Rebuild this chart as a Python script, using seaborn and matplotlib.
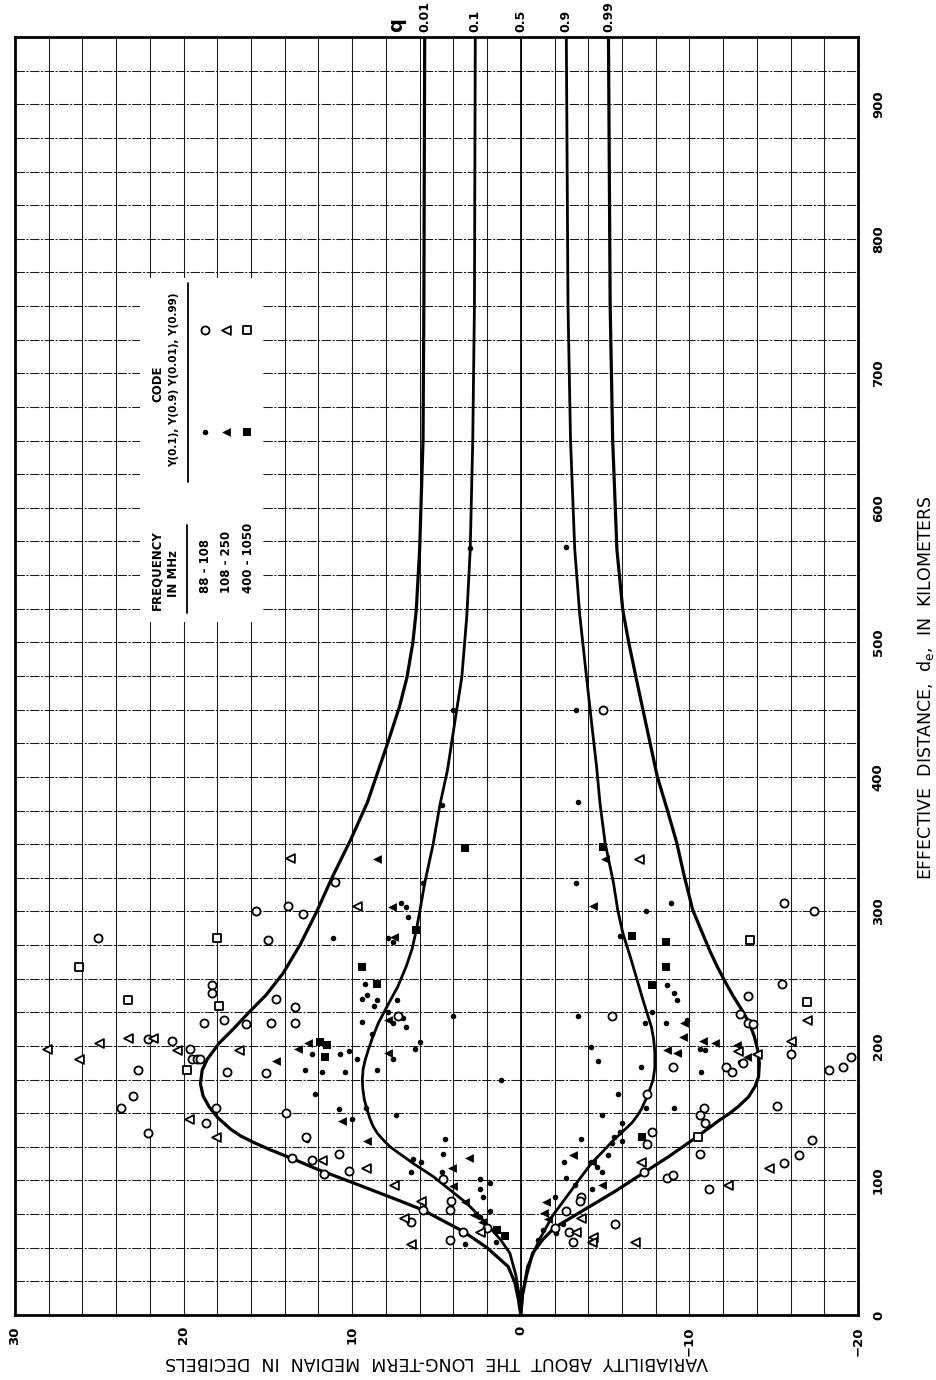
import numpy as np
import pandas as pd
import matplotlib
matplotlib.use("Agg")
import matplotlib.pyplot as plt
import seaborn as sns
from matplotlib.patches import Rectangle

sns.set_theme(style="white")
plt.rcParams['font.family'] = ['DejaVu Sans']
plt.rcParams['text.color'] = 'black'
plt.rcParams['xtick.color'] = 'black'
plt.rcParams['ytick.color'] = 'black'
plt.rcParams['axes.labelcolor'] = 'black'

# ---------------------------------------------------------------------------
# Predicted variability curves Y(q): effective distance (km) -> dB
# ---------------------------------------------------------------------------
q01_km = [0, 12, 24, 36, 50, 62, 78, 85, 99, 108, 117, 123, 128, 133, 138, 147,
          155, 163, 172, 182, 190, 202, 212, 224, 238, 254, 275, 300, 325, 353,
          381, 425, 452, 474, 500, 524, 569, 650, 750, 950]
q01_db = [0, 0.15, 0.35, 0.75, 2.0, 3.4, 5.8, 7.2, 10.1, 12.0, 13.7, 14.9, 15.8,
          16.6, 17.2, 18.0, 18.5, 18.85, 19.0, 18.9, 18.6, 17.9, 17.1, 16.2, 15.1,
          14.1, 13.1, 12.1, 11.2, 10.1, 9.1, 7.9, 7.2, 6.75, 6.4, 6.2, 6.0, 5.8,
          5.75, 5.7]

q10_km = [0, 15, 30, 46, 56, 65, 74, 83, 93, 103, 112, 120, 125, 130, 135, 140,
          146, 152, 160, 168, 175, 183, 190, 198, 206, 217, 229, 244, 259, 272,
          286, 303, 321, 350, 379, 405, 450, 474, 520, 569, 650, 750, 950]
q10_db = [0, 0.1, 0.3, 0.65, 1.2, 1.84, 2.5, 3.2, 4.2, 5.2, 6.3, 7.2, 7.75, 8.15,
          8.5, 8.75, 8.95, 9.1, 9.28, 9.37, 9.4, 9.35, 9.22, 9.02, 8.8, 8.45,
          7.95, 7.3, 6.8, 6.45, 6.2, 5.95, 5.7, 5.2, 4.8, 4.35, 3.8, 3.5, 3.2,
          3.0, 2.85, 2.75, 2.7]

q90_km = [0, 15, 36, 56, 74, 91, 103, 113, 122, 130, 137, 143, 148, 153, 164,
          175, 184, 195, 205, 214, 222, 234, 249, 266, 284, 301, 321, 351, 380,
          407, 440, 474, 520, 569, 650, 750, 950]
q90_db = [0, -0.1, -0.4, -1.1, -1.9, -2.9, -3.6, -4.2, -4.9, -5.5, -6.1, -6.6,
          -6.9, -7.15, -7.55, -7.85, -7.95, -7.95, -7.88, -7.75, -7.55, -7.25,
          -6.9, -6.5, -6.05, -5.75, -5.5, -5.0, -4.7, -4.5, -4.2, -3.9, -3.5,
          -3.2, -2.95, -2.8, -2.7]

q99_km = [0, 15, 30, 46, 56, 65, 80, 92, 105, 118, 132, 145, 150, 155, 162, 170,
          177, 187, 197, 207, 217, 227, 237, 247, 259, 271, 286, 301, 326, 351,
          375, 400, 435, 470, 500, 524, 569, 650, 750, 950]
q99_db = [0, -0.1, -0.35, -0.7, -1.3, -2.0, -4.0, -5.6, -7.2, -8.8, -10.4, -11.8,
          -12.4, -12.9, -13.5, -13.9, -14.1, -14.15, -14.05, -13.85, -13.55,
          -13.1, -12.6, -12.15, -11.65, -11.2, -10.7, -10.2, -9.7, -9.25, -8.7,
          -8.1, -7.5, -6.9, -6.4, -6.05, -5.7, -5.45, -5.3, -5.2]

q50_km = [0, 950]
q50_db = [0, 0]

q_labels = ["0.01", "0.1", "0.5", "0.9", "0.99"]

# ---------------------------------------------------------------------------
# Observed values (km, dB)
# Filled: Y(0.1), Y(0.9); open: Y(0.01), Y(0.99)
# circle 88-108 MHz, triangle 108-250 MHz, square 400-1050 MHz
# ---------------------------------------------------------------------------
fc_km = [570, 571, 450, 450, 381, 379, 321, 321, 306, 300, 280, 282, 245, 239,
         234, 246, 238, 235, 234, 230, 234, 280, 277, 296, 306, 303, 222, 222,
         225, 217, 217, 219, 221, 214, 203, 198, 199, 189, 218, 225, 217, 194,
         194, 196, 190, 182, 181, 181, 182, 164, 153, 154, 149, 146, 209, 190,
         184, 181, 198, 197, 195, 175, 164, 154, 154, 149, 143, 136, 132, 129,
         131, 128, 119, 114, 114, 110, 106, 120, 131, 116, 114, 106, 106, 101,
         98, 94, 88, 77, 73, 102, 94, 97, 88, 63, 61, 56, 68, 54, 53, 54, 188,
         130]
fc_db = [3.0, -2.7, 4.0, -3.3, -3.4, 4.7, -3.3, 5.8, -8.9, -7.4, 11.15, -5.9,
         -8.7, -9.1, -9.25, 9.25, 9.1, 9.4, 8.5, 8.7, 7.35, 7.9, 7.6, 6.7, 7.1,
         6.8, 4.0, -3.4, -7.8, -7.35, -8.6, -9.85, 7.0, 6.8, 6.0, 6.3, -4.15,
         -4.6, 9.4, 7.9, 7.6, 12.4, 10.7, 10.2, 9.7, 12.8, 11.8, 10.4, 8.5, 12.2,
         10.8, 9.2, 7.4, 10.0, 8.8, 7.6, -7.1, -10.7, -10.6, -10.9, -9.4, 1.2,
         -5.75, -7.4, -9.1, -4.8, -6.0, -5.9, -5.5, -6.0, -3.6, -5.4, -5.2,
         -2.55, -4.15, -4.5, -4.8, 4.6, 4.5, 6.4, 5.9, 6.5, 4.7, 2.4, 1.8, 2.4,
         2.25, 1.8, 2.4, -2.7, -4.2, -3.2, -2.0, -1.3, -2.1, -1.0, -2.5, -4.15,
         3.3, 1.5, -13.0, 12.7]

ft_km = [339, 303, 281, 339, 304, 202, 198, 189, 144, 195, 129, 217, 207, 204,
         202, 197, 195, 201, 192, 119, 114, 97, 117, 109, 96, 84, 74, 69, 84, 76,
         71, 219]
ft_db = [8.5, 7.65, 7.5, -5.0, -4.3, 12.6, 13.2, 14.5, 10.6, 7.9, 9.1, -9.7,
         -9.6, -10.8, -11.5, -8.7, -9.25, -12.8, -13.4, -3.1, -4.2, -4.8, 3.1,
         4.1, 4.0, 3.3, 2.8, 2.3, -1.5, -1.4, -1.6, 7.9]

fs_km = [347, 348, 282, 277, 259, 245, 286, 259, 246, 203, 201, 192, 132, 63, 59]
fs_db = [3.3, -4.9, -6.6, -8.6, -8.6, -7.8, 6.2, 9.4, 8.5, 11.9, 11.5, 11.6,
         -7.2, 1.4, 0.95]

oc_km = [280, 304, 298, 322, 300, 279, 235, 229, 217, 217, 217, 219, 245, 239,
         216, 205, 204, 198, 190, 190, 190, 182, 181, 180, 163, 154, 135, 143,
         154, 150, 117, 115, 120, 105, 107, 132, 222, 450, 306, 300, 246, 237,
         224, 217, 216, 222, 194, 187, 184, 184, 181, 164, 154, 149, 143, 155,
         136, 127, 120, 106, 102, 104, 94, 113, 119, 101, 85, 78, 88, 85, 77, 65,
         62, 54, 68, 65, 56, 62, 78, 69, 192, 184, 182, 130]
oc_db = [25.1, 13.8, 12.9, 11.0, 15.7, 15.0, 14.5, 13.4, 13.4, 14.8, 18.8, 17.6,
         18.3, 18.3, 16.3, 22.1, 20.7, 19.6, 19.5, 19.2, 19.0, 22.7, 17.4, 15.1,
         23.0, 23.7, 22.1, 18.7, 18.1, 13.9, 13.6, 12.4, 10.8, 11.7, 10.2, 12.75,
         7.3, -4.9, -15.6, -17.4, -15.5, -13.5, -13.0, -13.5, -13.8, -5.4, -16.0,
         -13.2, -9.0, -12.2, -12.5, -7.5, -10.85, -10.6, -10.9, -15.2, -7.8,
         -7.5, -10.6, -7.3, -8.7, -9.0, -11.15, -15.6, -16.5, 4.6, 4.15, 4.2,
         -3.6, -3.5, -2.7, -2.0, -2.85, -3.1, -5.6, 2.0, 4.2, 3.4, 5.8, 6.5,
         -19.6, -19.1, -18.3, -17.3]

ot_km = [340, 304, 339, 202, 206, 206, 197, 198, 190, 197, 146, 132, 115, 109,
         97, 204, 196, 194, 114, 97, 109, 62, 72, 58, 54, 54, 62, 85, 72, 53, 219]
ot_db = [13.7, 9.7, -7.0, 25.0, 23.3, 21.8, 20.4, 28.1, 26.2, 16.7, 19.7, 18.1,
         11.8, 9.2, 7.5, -16.0, -12.9, -14.0, -7.1, -12.3, -14.7, -3.3, -3.6,
         -4.3, -4.2, -6.8, 2.4, 5.9, 6.9, 6.5, -17.0]

os_km = [280, 259, 234, 230, 182, 279, 233, 132]
os_db = [18.0, 26.2, 23.3, 17.9, 19.8, -13.6, -17.0, -10.5]

band_labels = ["88 - 108", "108 - 250", "400 - 1050"]

# ---------------------------------------------------------------------------
W, H = 936, 1380
fig = plt.figure(figsize=(W / 100, H / 100), dpi=100)
fig.patch.set_facecolor("white")
L, R, T, B = 15, 858, 37, 1315
ax = fig.add_axes([L / W, (H - B) / H, (R - L) / W, (B - T) / H])
ax.set_facecolor("white")


def afx(px):
    return (px - L) / (R - L)


def afy(py):
    return (B - py) / (B - T)


ax.set_xlim(30, -20)
ax.set_ylim(0, 950)
ax.set_xticks([30, 20, 10, 0, -10, -20])
ax.set_xticklabels(["30", "20", "10", "0", "\u221210", "\u221220"])
ax.set_xticks(np.arange(-20, 31, 2), minor=True)
ax.set_yticks(np.arange(0, 901, 100))
ax.set_yticks(np.arange(0, 951, 25), minor=True)
ax.yaxis.tick_right()
ax.xaxis.grid(True, which="both", color="#1a1a1a", linewidth=0.75)
ax.yaxis.grid(True, which="both", color="#1a1a1a", linewidth=0.75,
              dashes=(9, 1.5, 2, 1.5))
ax.set_axisbelow(True)
ax.tick_params(axis="both", which="both", length=0)
ax.tick_params(axis="x", pad=8, labelsize=9.5)
ax.tick_params(axis="y", pad=10, labelsize=9.5)
for lab in ax.get_xticklabels():
    lab.set_rotation(90)
    lab.set_fontweight("bold")
    lab.set_va("top")
for lab in ax.get_yticklabels():
    lab.set_rotation(90)
    lab.set_fontweight("bold")
    lab.set_va("center")
for sp in ax.spines.values():
    sp.set_color("black")
    sp.set_linewidth(2.0)

# legend panel background (hides the grid beneath the code table)
ax.add_patch(Rectangle((afx(140), afy(622)), afx(262) - afx(140), afy(278) - afy(622),
                       transform=ax.transAxes, facecolor="white", edgecolor="none",
                       zorder=1))

# curves
curves = [(q01_km, q01_db, 2.3), (q10_km, q10_db, 2.0), (q50_km, q50_db, 1.3),
          (q90_km, q90_db, 2.0), (q99_km, q99_db, 2.3)]
for km, db, lw in curves:
    sns.lineplot(x=db, y=km, orient="y", estimator=None, sort=True, color="black",
                 linewidth=lw, ax=ax, zorder=3)

# observations
styles = [
    (fc_km, fc_db, "o", 16, "black", 0.0),
    (ft_km, ft_db, "<", 40, "black", 0.0),
    (fs_km, fs_db, "s", 30, "black", 0.0),
    (oc_km, oc_db, "o", 34, "white", 1.3),
    (ot_km, ot_db, "<", 40, "white", 1.3),
    (os_km, os_db, "s", 28, "white", 1.3),
]
for km, db, mk, s, fc, lw in styles:
    df = pd.DataFrame({"km": km, "db": db})
    sns.scatterplot(data=df, x="db", y="km", marker=mk, s=s, color=fc,
                    edgecolor="black", linewidth=lw, ax=ax, zorder=4, legend=False)
ax.set_xlabel("")
ax.set_ylabel("")

# quantile labels above the frame
ax.text(afx(397), 1.004, "q", transform=ax.transAxes, rotation=90, ha="center",
        va="bottom", fontsize=14, fontweight="bold")
for (km, db, lw), lab in zip(curves, q_labels):
    ax.text(db[-1], 1.004, lab, transform=ax.get_xaxis_transform(), rotation=90,
            ha="center", va="bottom", fontsize=9, fontweight="bold")

# code table
tkw = dict(transform=ax.transAxes, rotation=90, ha="center", va="bottom",
           fontweight="bold", zorder=5)
ax.text(afx(157), afy(610), "FREQUENCY", fontsize=8.5, **tkw)
ax.text(afx(173), afy(597), "IN MHz", fontsize=8.5, **tkw)
for px, lab in zip([205, 226, 248], band_labels):
    ax.text(afx(px), afy(593), lab, fontsize=8.5, **tkw)
ax.plot([afx(187), afx(187)], [afy(613), afy(525)], transform=ax.transAxes,
        color="black", linewidth=1.3, zorder=5)
ax.text(afx(158), afy(384), "CODE", fontsize=8.5, transform=ax.transAxes,
        rotation=90, ha="center", va="center", fontweight="bold", zorder=5)
ax.text(afx(174), afy(380), "Y(0.1), Y(0.9) Y(0.01), Y(0.99)", fontsize=7.5,
        transform=ax.transAxes, rotation=90, ha="center", va="center",
        fontweight="bold", zorder=5)
ax.plot([afx(188), afx(188)], [afy(482), afy(283)], transform=ax.transAxes,
        color="black", linewidth=1.3, zorder=5)
for (km, db, mk, s, fc, lw), px in zip(styles, [205, 226, 247, 205, 226, 247]):
    py = 432 if fc == "black" else 330
    ax.scatter([afx(px)], [afy(py)], transform=ax.transAxes, marker=mk, s=s,
               c=fc, edgecolors="black", linewidths=lw, zorder=6, clip_on=False)

# axis titles
fig.text(437 / W, 1 - 1362 / H, "VARIABILITY  ABOUT  THE  LONG-TERM  MEDIAN  IN  DECIBELS",
         rotation=180, ha="center", va="center", fontsize=12.5)
fig.text(925 / W, 1 - 688 / H,
         "EFFECTIVE  DISTANCE,  $\\mathregular{d_e}$,  IN  KILOMETERS",
         rotation=90, ha="center", va="center", fontsize=12.5)

fig.savefig("out.png", dpi=100)
